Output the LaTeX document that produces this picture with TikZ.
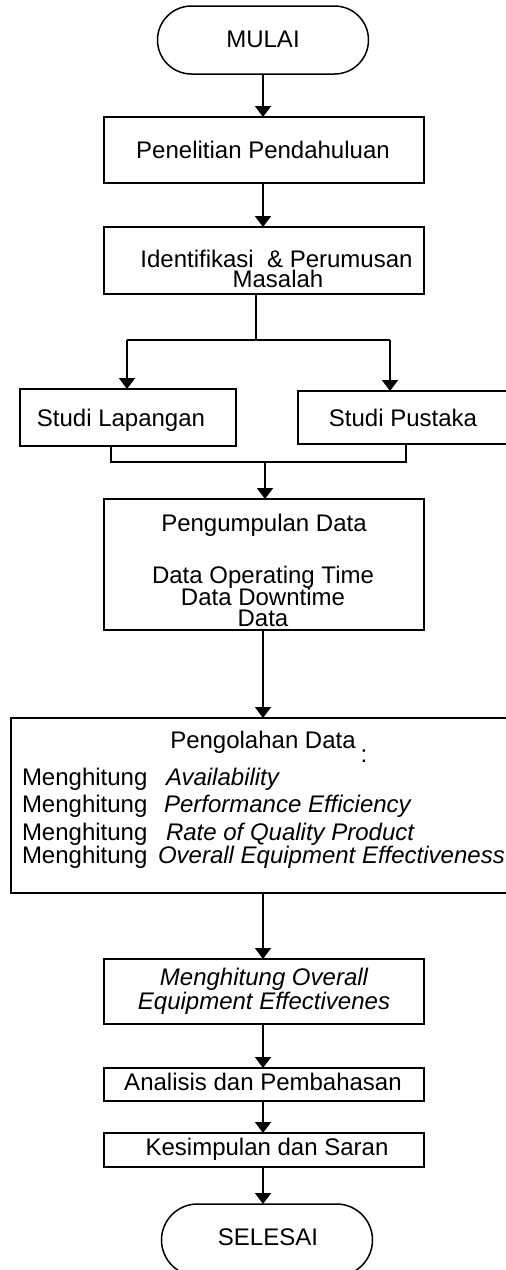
\documentclass[tikz,border=0pt]{standalone}
\usepackage{fontspec}
\setmainfont{Liberation Sans}
\usetikzlibrary{arrows.meta,shapes.misc}
\def\pu{0.5pt}
\tikzset{
  box/.style={draw,rectangle,inner sep=0pt,outer sep=0pt,line width=0.75pt},
  term/.style={draw,rounded rectangle,inner sep=0pt,outer sep=0pt,line width=0.75pt,
    minimum width=211*\pu,minimum height=68*\pu},
  txt/.style={inner sep=0pt,outer sep=0pt,anchor=base,font=\fontsize{12}{14}\selectfont},
  txtl/.style={txt,anchor=base west},
  line/.style={line width=0.75pt},
  arr/.style={line width=0.75pt,-{Triangle[length=5.5pt,width=8pt]}}
}
\begin{document}
\begin{tikzpicture}[x=0.5pt,y=-0.5pt]
\useasboundingbox (0,0) rectangle (506,1270);
\clip (0,0) rectangle (506,1270);
% shapes
\node[term] (mulai) at (263,40) {};
\node[box,minimum width=320*\pu,minimum height=66*\pu] (pen) at (264,150) {};
\node[box,minimum width=320*\pu,minimum height=67*\pu] (ide) at (264,260.5) {};
\node[box,minimum width=216*\pu,minimum height=57*\pu] (sl) at (128,417.5) {};
\node[box,minimum width=262*\pu,minimum height=53*\pu] (sp) at (429,417.5) {};
\node[box,minimum width=320*\pu,minimum height=131*\pu] (pgu) at (264,564.5) {};
\node[box,minimum width=549*\pu,minimum height=175*\pu] (pgo) at (285.5,805.5) {};
\node[box,minimum width=320*\pu,minimum height=65*\pu] (oee) at (264,991.5) {};
\node[box,minimum width=320*\pu,minimum height=33*\pu] (ana) at (264,1084.5) {};
\node[box,minimum width=320*\pu,minimum height=34*\pu] (kes) at (264,1150) {};
\node[term,minimum height=72*\pu] (sel) at (267,1240) {};
% texts
\node[txt] (t-mulai) at (263,47) {MULAI};
\node[txt] (t-pen) at (263,158) {Penelitian Pendahuluan};
\node[txt] (t-ide1) at (276.5,267) {Identifikasi\ \ \& Perumusan};
\node[txt] (t-ide2) at (278,287) {Masalah};
\node[txt] (t-sl) at (121,426) {Studi Lapangan};
\node[txt] (t-sp) at (403,426) {Studi Pustaka};
\node[txt] (t-pgu1) at (264,531) {Pengumpulan Data};
\node[txt] (t-pgu2) at (263,583) {Data Operating Time};
\node[txt] (t-pgu3) at (263,605) {Data Downtime};
\node[txt] (t-pgu4) at (263,626) {Data};
\node[txt] (t-pgo) at (263,748) {Pengolahan Data};
\node[txt] (t-colon) at (364,762) {:};
\node[txtl] (m1) at (22,785) {Menghitung};
\node[txtl] (i1) at (166,785) {\itshape Availability};
\node[txtl] (m2) at (22,812) {Menghitung};
\node[txtl] (i2) at (164,812) {\itshape Performance Efficiency};
\node[txtl] (m3) at (22,840) {Menghitung};
\node[txtl] (i3) at (166,840) {\itshape Rate of Quality Product};
\node[txtl] (m4) at (22,863) {Menghitung};
\node[txtl] (i4) at (158,863) {\itshape Overall Equipment Effectiveness};
\node[txt] (t-oee1) at (264,985) {\itshape Menghitung Overall};
\node[txt] (t-oee2) at (264,1009) {\itshape Equipment Effectivenes};
\node[txt] (t-ana) at (263,1090) {Analisis dan Pembahasan};
\node[txt] (t-kes) at (267,1155) {Kesimpulan dan Saran};
\node[txt] (t-sel) at (268,1245) {SELESAI};
% connectors
\draw[arr] (mulai.south) -- (mulai.south |- pen.north);
\draw[arr] (263,0 |- pen.south) -- (263,0 |- ide.north);
\coordinate (split) at (256,340);
\coordinate (bl) at (127,340);
\coordinate (br) at (390,340);
\draw[line] (split |- ide.south) -- (split);
\draw[line] (bl) -- (br);
\draw[arr] (bl) -- (bl |- sl.north);
\draw[arr] (br) -- (br |- sp.north);
\coordinate (jl) at (111,462);
\coordinate (jr) at (406,462);
\coordinate (jm) at (265,462);
\draw[line] (jl |- sl.south) -- (jl) -- (jr) -- (jr |- sp.south);
\draw[arr] (jm) -- (jm |- pgu.north);
\coordinate (c1) at (263,0);
\draw[arr] (c1 |- pgu.south) -- (c1 |- pgo.north);
\draw[arr] (c1 |- pgo.south) -- (c1 |- oee.north);
\draw[arr] (c1 |- oee.south) -- (c1 |- ana.north);
\draw[arr] (c1 |- ana.south) -- (c1 |- kes.north);
\draw[arr] (c1 |- kes.south) -- (c1 |- sel.north);
\end{tikzpicture}
\end{document}
